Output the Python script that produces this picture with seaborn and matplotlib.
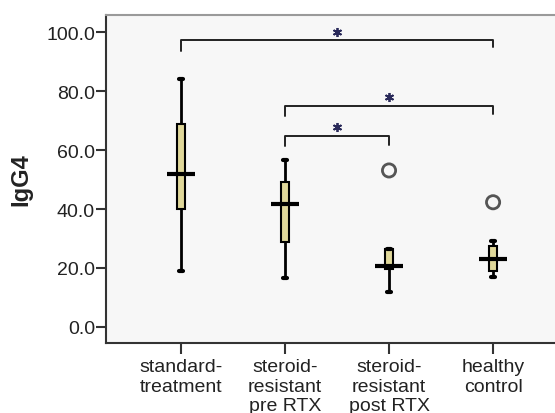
import pandas as pd
import matplotlib
matplotlib.use("Agg")
import matplotlib.pyplot as plt
import seaborn as sns

# five-number summaries
groups = ["standard-\ntreatment", "steroid-\nresistant\npre RTX",
          "steroid-\nresistant\npost RTX", "healthy\ncontrol"]
whisker_low = [19.0, 16.5, 11.7, 16.8]
q1 = [40.0, 28.7, 19.5, 19.0]
medians = [51.9, 41.7, 20.7, 23.0]
q3 = [68.9, 49.1, 26.4, 27.6]
whisker_high = [84.2, 56.8, 26.4, 29.2]

outlier_groups = [groups[2], groups[3]]
outlier_values = [53.1, 42.3]

# significance brackets (group index left/right, bar height, leg drops)
bracket_left = [0, 1, 1]
bracket_right = [3, 3, 2]
bracket_y = [97.3, 75.1, 64.9]
drop_left = [3.6, 3.4, 3.4]
drop_right = [2.4, 2.9, 3.2]

yticks = [0, 20, 40, 60, 80, 100]

# long table: each group's five-number summary
rows = []
for g, lo, a, m, b, hi in zip(groups, whisker_low, q1, medians, q3, whisker_high):
    for v in (lo, a, m, b, hi):
        rows.append({"group": g, "IgG4": v})
df = pd.DataFrame(rows)

sns.set_style("ticks")
plt.rcParams["font.family"] = ["Liberation Sans", "DejaVu Sans"]

fig = plt.figure(figsize=(5.55, 4.14), dpi=100)
ax = fig.add_axes([106 / 555, 70 / 414, 462 / 555, 328 / 414])
ax.set_facecolor("#f7f7f7")

sns.boxplot(data=df, x="group", y="IgG4", order=groups, whis=(0, 100),
            width=0.075, color="#e0d89a", saturation=1, linecolor="black",
            linewidth=1.5, showfliers=False,
            whiskerprops={"linewidth": 2}, capprops={"linewidth": 3}, ax=ax)

# wide median bars
sns.pointplot(x=groups, y=medians, order=groups, color="black",
              linestyle="none", marker="_", markersize=20.5,
              markeredgewidth=3, errorbar=None, ax=ax)

# outliers
sns.stripplot(x=outlier_groups, y=outlier_values, order=groups, jitter=False,
              facecolor="none", edgecolor="#555555", linewidth=2, size=9.5,
              ax=ax)

for l, r, y, dl, dr in zip(bracket_left, bracket_right, bracket_y,
                           drop_left, drop_right):
    ax.plot([l, l, r, r], [y - dl, y, y, y - dr], color="#222222", lw=1.4)
    ax.plot([(l + r) / 2], [y + 2.9], marker=(6, 2, 0), markersize=6.5,
            mew=1.3, color="#2a2a5a")

ax.set_xlim(-0.72, 3.72)
ax.set_ylim(-5.5, 105.9)
ax.set_xticks(range(len(groups)))
ax.set_xticklabels(groups)
ax.set_yticks(yticks)
ax.set_yticklabels([f"{t:.1f}" for t in yticks])
ax.set_xlabel("")
ax.set_ylabel("IgG4", fontsize=17, fontweight="bold", labelpad=10,
              color="#222222")

ax.tick_params(axis="both", direction="out", length=7, width=1.5,
               colors="#333333", labelsize=14, labelcolor="#222222",
               bottom=True, left=True, top=False, right=False)
ax.tick_params(axis="y", pad=1)
ax.tick_params(axis="x", pad=3, length=8)
for side in ["left", "bottom"]:
    ax.spines[side].set_color("#333333")
    ax.spines[side].set_linewidth(1.5)
ax.spines["top"].set_visible(True)
ax.spines["right"].set_visible(True)
ax.spines["top"].set_color("#9a9a9a")
ax.spines["top"].set_linewidth(1.5)
ax.spines["right"].set_color("#333333")

fig.savefig("out.png", dpi=100)
plt.close(fig)
